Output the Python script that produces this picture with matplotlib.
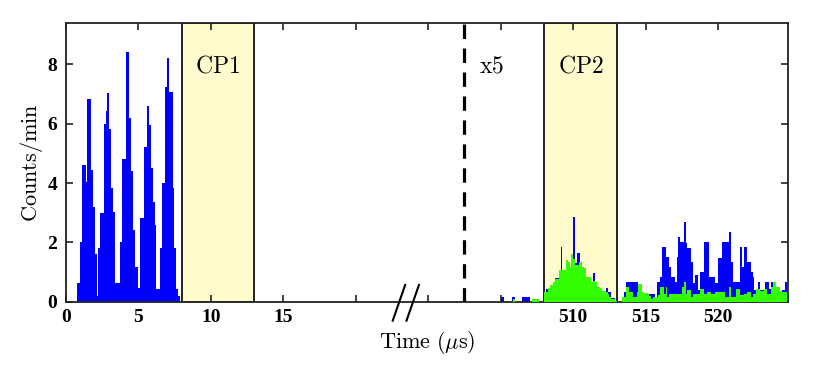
import numpy as np
import matplotlib
matplotlib.use("Agg")
import matplotlib.pyplot as plt
import matplotlib.transforms as mtransforms

plt.rcParams["mathtext.fontset"] = "cm"

# histogram bin width (us)
bin_w = 0.125

# early window, 0.75 .. 7.875 us
left_start = 0.75
left_counts = [0.64, 0.64, 2.03, 4.6, 4.6, 4.04, 6.81, 6.81, 4.44, 3.2,
               1.61, 0.2, 1.8, 3.0, 3.0, 5.97, 6.42, 7.01, 5.81, 3.82,
               3.04, 0.64, 0.64, 0.64, 2.03, 4.8, 4.8, 8.41, 8.41, 6.2,
               4.41, 2.42, 1.19, 1.19, 0.46, 2.81, 2.81, 5.22, 5.22, 6.59,
               5.95, 4.49, 3.37, 2.59, 0.44, 0.44, 1.8, 4.01, 4.01, 7.24,
               8.19, 7.07, 7.07, 3.82, 1.8, 0.44, 0.2]

# late window (x5), 505 .. 524.75 us
right_start = 505.0
pre_blue = [0.16, 0.16, 0, 0, 0, 0, 0.16, 0.16, 0, 0, 0, 0,
            0.16, 0.16, 0.16, 0.16, 0, 0, 0, 0, 0, 0, 0, 0]
pre_green = [0, 0, 0, 0, 0, 0, 0, 0.1, 0, 0, 0, 0,
             0, 0, 0, 0, 0, 0.1, 0.1, 0.1, 0.1, 0, 0, 0]
cp2_blue = [0.33, 0.45, 0.47, 0.58, 0.58, 0.66, 0.8, 0.81, 1.06, 1.84,
            1.08, 1.08, 1.42, 1.34, 1.17, 1.6, 2.85, 1.3, 1.66, 1.66,
            1.34, 1.17, 1.15, 0.83, 0.83, 0.83, 0.66, 0.99, 0.66, 0.49,
            0.49, 0.47, 0.38, 0.38, 0.47, 0.33, 0.33, 0.14, 0.14, 0.05]
cp2_green = [0.33, 0.33, 0.47, 0.58, 0.58, 0.66, 0.78, 0.78, 1.06, 1.06,
             1.08, 1.08, 1.42, 1.34, 1.17, 1.6, 1.45, 1.26, 1.26, 1.34,
             1.34, 1.17, 1.15, 0.83, 0.83, 0.83, 0.66, 0.7, 0.66, 0.49,
             0.49, 0.47, 0.38, 0.38, 0.33, 0.27, 0.16, 0.1, 0.1, 0.05]
post_blue = [0, 0, 0, 0, 0.32, 0.66, 0.66, 0.66, 0.66, 0.66,
             0.66, 0.66, 0.6, 0.6, 0.32, 0.3, 0.29, 0.26, 0.26, 0.26,
             0.26, 0.18, 0.66, 0.66, 0.85, 1.84, 1.84, 1.5, 1.5, 1.19,
             0.85, 0.85, 0.68, 1.5, 2.17, 2.03, 2.03, 2.7, 1.97, 1.8,
             1.8, 1.36, 0.63, 0.9, 0.9, 0.4, 1.0, 1.0, 2.03, 2.03,
             2.03, 0.85, 0.85, 0.85, 0.63, 0.63, 1.47, 1.47, 2.03, 2.03,
             2.03, 2.03, 2.36, 1.36, 0.68, 0.68, 0.68, 0.68, 1.86, 1.19,
             1.86, 1.86, 1.36, 1.36, 1.0, 0.85, 0.4, 0.4, 0.68, 0.4,
             0.4, 0.44, 0.68, 0.68, 0.44, 0.68, 0.68, 0.68, 0.52, 0.52,
             0.37, 0.4, 0.4, 0.68]
post_green = [0, 0, 0, 0.18, 0.18, 0.52, 0.52, 0.33, 0.33, 0.18,
              0.18, 0.33, 0.6, 0.6, 0.32, 0.29, 0.29, 0.26, 0.2, 0.1,
              0.18, 0.18, 0.18, 0.25, 0.52, 0.52, 0.26, 0.52, 0.18, 0.26,
              0.26, 0.26, 0.26, 0.26, 0.26, 0.26, 0.52, 0.68, 0.26, 0.4,
              0.4, 0.18, 0.26, 0.26, 0.26, 0.26, 0.44, 0.44, 0.26, 0.26,
              0.33, 0.33, 0.26, 0.26, 0.33, 0.33, 0.33, 0.33, 0.33, 0.33,
              0.18, 0.18, 0.52, 0.18, 0.18, 0.18, 0.44, 0.44, 0.24, 0.24,
              0.26, 0.26, 0.33, 0.33, 0.18, 0.26, 0.26, 0.44, 0.44, 0.37,
              0.37, 0.44, 0.44, 0.26, 0.26, 0.52, 0.68, 0.68, 0.52, 0.52,
              0.37, 0.33, 0.33, 0.33]

cp1 = (8.0, 13.0)
cp2 = (508.0, 513.0)
x_tick_vals = [0, 5, 10, 15, 20, 25, 505, 510, 515, 520]
x_tick_labels = ["0", "5", "10", "15", "", "", "", "510", "515", "520"]
y_ticks = [0, 2, 4, 6, 8]

# late times are drawn shifted onto the same axis
shift = 475.0
break_at = 502.45 - shift

right_blue = pre_blue + cp2_blue + post_blue
right_green = pre_green + cp2_green + post_green

fig = plt.figure(figsize=(8.3, 3.75), dpi=100)
ax = fig.add_axes([0.0792, 0.1947, 0.8700, 0.7440])

blue = "#0000ff"
green = "#33ff00"
yellow = "#fffbcc"

for lo, hi in [cp1, (cp2[0] - shift, cp2[1] - shift)]:
    ax.axvspan(lo, hi, facecolor=yellow, edgecolor="#111111", linewidth=1.3, zorder=0)

el = left_start + np.arange(len(left_counts) + 1) * bin_w
ax.stairs(left_counts, el, fill=True, color=blue, linewidth=0, zorder=2)

er = right_start - shift + np.arange(len(right_blue) + 1) * bin_w
ax.stairs(right_blue, er, fill=True, color=blue, linewidth=0, zorder=2)
ax.stairs(right_green, er, fill=True, color=green, linewidth=0, zorder=3)

ax.axvline(break_at, color="black", linewidth=2.3, linestyle=(0, (4.5, 3.0)), zorder=4)

ax.set_xlim(0, 49.8)
ax.set_ylim(0, 9.38)
ax.set_xticks([v if v < 100 else v - shift for v in x_tick_vals])
ax.set_xticklabels(x_tick_labels)
ax.set_yticks(y_ticks)
ax.tick_params(direction="in", length=5, width=1.2, top=True, right=True,
               color="#222222")
ax.tick_params(axis="y", pad=6)
ax.tick_params(axis="x", pad=5)
for lab in ax.get_xticklabels() + ax.get_yticklabels():
    lab.set_fontfamily("Liberation Serif")
    lab.set_fontweight("bold")
    lab.set_fontsize(14)
for sp in ax.spines.values():
    sp.set_linewidth(1.3)
    sp.set_color("#222222")

txt_kw = dict(fontsize=17, ha="center", va="center", zorder=5)
ax.text(sum(cp1) / 2, 7.95, r"$\mathrm{CP1}$", **txt_kw)
ax.text(sum(cp2) / 2 - shift, 7.95, r"$\mathrm{CP2}$", **txt_kw)
ax.text(break_at + 1.9, 7.95, r"$\mathrm{x5}$", **txt_kw)

ax.set_ylabel(r"$\mathrm{Counts/min}$", fontsize=16, labelpad=2)
ax.set_xlabel(r"$\mathrm{Time}\ (\mu\mathrm{s})$", fontsize=16, labelpad=2)

# axis break marks
trans = mtransforms.blended_transform_factory(ax.transData, ax.transAxes)
for x0 in [22.55, 23.5]:
    ax.plot([x0, x0 + 0.86], [-0.067, 0.061], color="black", linewidth=1.5,
            transform=trans, clip_on=False, zorder=6)

fig.savefig("out.png", dpi=100)
